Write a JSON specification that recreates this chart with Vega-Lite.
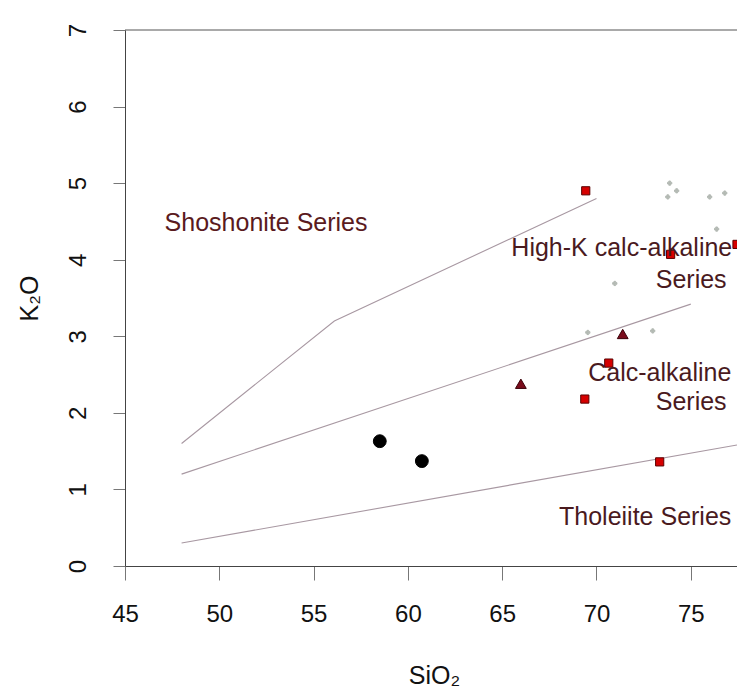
{
  "$schema": "https://vega.github.io/schema/vega-lite/v6.json",
  "width": 612,
  "height": 536,
  "autosize": {"type": "none"},
  "padding": {"left": 125, "top": 30, "right": 0, "bottom": 122},
  "background": "white",
  "config": {"view": {"stroke": null}, "font": "Liberation Sans"},
  "datasets": {
    "lines": [
      {"line": "upper", "SiO2": 48, "K2O": 1.6},
      {"line": "upper", "SiO2": 56.1, "K2O": 3.2},
      {"line": "upper", "SiO2": 70, "K2O": 4.8},
      {"line": "middle", "SiO2": 48, "K2O": 1.2},
      {"line": "middle", "SiO2": 75, "K2O": 3.42},
      {"line": "lower", "SiO2": 48, "K2O": 0.3},
      {"line": "lower", "SiO2": 77.45, "K2O": 1.58}
    ],
    "samples": [
      {"group": "grey", "SiO2": 73.88, "K2O": 5.0},
      {"group": "grey", "SiO2": 74.25, "K2O": 4.9},
      {"group": "grey", "SiO2": 73.78, "K2O": 4.82},
      {"group": "grey", "SiO2": 76.0, "K2O": 4.82},
      {"group": "grey", "SiO2": 76.8, "K2O": 4.87},
      {"group": "grey", "SiO2": 76.37, "K2O": 4.4},
      {"group": "grey", "SiO2": 70.97, "K2O": 3.69},
      {"group": "grey", "SiO2": 69.54, "K2O": 3.05},
      {"group": "grey", "SiO2": 72.98, "K2O": 3.07},
      {"group": "square", "SiO2": 69.43, "K2O": 4.9},
      {"group": "square", "SiO2": 73.93, "K2O": 4.07},
      {"group": "square", "SiO2": 77.45, "K2O": 4.2},
      {"group": "square", "SiO2": 70.65, "K2O": 2.65},
      {"group": "square", "SiO2": 69.38, "K2O": 2.18},
      {"group": "square", "SiO2": 73.35, "K2O": 1.36},
      {"group": "triangle", "SiO2": 71.39, "K2O": 3.03},
      {"group": "triangle", "SiO2": 65.99, "K2O": 2.38},
      {"group": "circle", "SiO2": 58.51, "K2O": 1.63},
      {"group": "circle", "SiO2": 60.74, "K2O": 1.37}
    ],
    "labelsLeft": [
      {"label": "Shoshonite Series", "SiO2": 47.1, "K2O": 4.48}
    ],
    "labelsRight": [
      {"label": "High-K calc-alkaline", "SiO2": 77.2, "K2O": 4.15},
      {"label": "Series", "SiO2": 76.9, "K2O": 3.73},
      {"label": "Calc-alkaline", "SiO2": 77.15, "K2O": 2.52},
      {"label": "Series", "SiO2": 76.9, "K2O": 2.14},
      {"label": "Tholeiite Series", "SiO2": 77.15, "K2O": 0.64}
    ]
  },
  "layer": [
    {
      "data": {"name": "lines"},
      "mark": {"type": "line", "color": "#a898a2", "strokeWidth": 1.1},
      "encoding": {
        "x": {
          "field": "SiO2", "type": "quantitative",
          "scale": {"domain": [45, 77.45], "nice": false, "zero": false},
          "axis": {
            "values": [45, 50, 55, 60, 65, 70, 75],
            "format": "d",
            "title": "SiO₂",
            "titleFontSize": 25, "titleFontWeight": "normal", "titleColor": "#111",
            "titleX": 309, "titleY": 117, "titleBaseline": "alphabetic",
            "labelFontSize": 24, "labelColor": "#111", "labelPadding": 22,
            "labelBaseline": "top", "labelFlush": false,
            "tickSize": 14, "tickColor": "#777", "domainColor": "#444",
            "grid": false
          }
        },
        "y": {
          "field": "K2O", "type": "quantitative",
          "scale": {"domain": [0, 7], "nice": false},
          "axis": {
            "values": [0, 1, 2, 3, 4, 5, 6, 7],
            "format": "d",
            "title": "K₂O",
            "titleFontSize": 25, "titleFontWeight": "normal", "titleColor": "#111",
            "titleX": -96, "titleY": 268, "titleAngle": 270,
            "titleAlign": "center", "titleBaseline": "middle",
            "labelFontSize": 24, "labelColor": "#111", "labelAngle": 270,
            "labelAlign": "center", "labelBaseline": "middle", "labelPadding": 35,
            "labelFlush": false,
            "tickSize": 12, "tickColor": "#777", "domainColor": "#444",
            "grid": false
          }
        },
        "detail": {"field": "line"}
      }
    },
    {
      "data": {"values": [{"K2O": 7}]},
      "mark": {"type": "rule", "color": "#555", "strokeWidth": 1},
      "encoding": {"y": {"field": "K2O", "type": "quantitative"}}
    },
    {
      "data": {"name": "samples"},
      "mark": {"type": "point", "filled": true, "opacity": 1, "strokeWidth": 1},
      "encoding": {
        "x": {"field": "SiO2", "type": "quantitative"},
        "y": {"field": "K2O", "type": "quantitative"},
        "shape": {
          "field": "group", "type": "nominal", "legend": null,
          "scale": {"domain": ["grey", "square", "triangle", "circle"], "range": ["cross", "square", "triangle-up", "circle"]}
        },
        "fill": {
          "field": "group", "type": "nominal", "legend": null,
          "scale": {"domain": ["grey", "square", "triangle", "circle"], "range": ["#b4bab4", "#d60000", "#7a0c1c", "#000000"]}
        },
        "stroke": {
          "field": "group", "type": "nominal", "legend": null,
          "scale": {"domain": ["grey", "square", "triangle", "circle"], "range": ["#b4bab4", "#5a0000", "#3a0008", "#000000"]}
        },
        "size": {
          "field": "group", "type": "nominal", "legend": null,
          "scale": {"domain": ["grey", "square", "triangle", "circle"], "range": [18, 165, 175, 75]}
        }
      }
    },
    {
      "data": {"name": "labelsLeft"},
      "mark": {"type": "text", "align": "left", "baseline": "middle", "fontSize": 25, "color": "#5a1a20"},
      "encoding": {
        "x": {"field": "SiO2", "type": "quantitative"},
        "y": {"field": "K2O", "type": "quantitative"},
        "text": {"field": "label"}
      }
    },
    {
      "data": {"name": "labelsRight"},
      "mark": {"type": "text", "align": "right", "baseline": "middle", "fontSize": 25, "color": "#4a1a1e"},
      "encoding": {
        "x": {"field": "SiO2", "type": "quantitative"},
        "y": {"field": "K2O", "type": "quantitative"},
        "text": {"field": "label"}
      }
    }
  ]
}
